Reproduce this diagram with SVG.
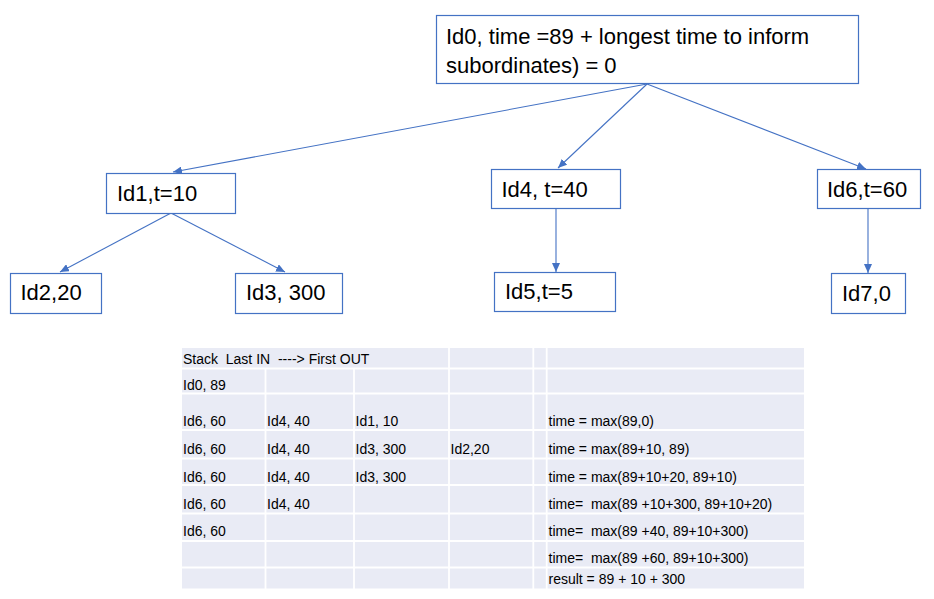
<svg xmlns="http://www.w3.org/2000/svg" width="934" height="599" viewBox="0 0 934 599">
<style>
  .box { fill: #ffffff; stroke: #4472C4; stroke-width: 1.2; }
  .nt { font-family: "Liberation Sans", Arial, sans-serif; font-size: 22px; fill: #000000; white-space: pre; }
  .tt { font-family: "Liberation Sans", Arial, sans-serif; font-size: 14px; fill: #000000; white-space: pre; }
  .conn { stroke: #4472C4; stroke-width: 1.1; fill: none; marker-end: url(#arrow); }
  .cell { fill: #E9EBF5; }
  .grid { stroke: #ffffff; stroke-width: 1.8; }
</style>
<defs>
  <marker id="arrow" markerUnits="userSpaceOnUse" markerWidth="10" markerHeight="8" refX="9" refY="4" orient="auto">
    <path d="M0,0 L9,4 L0,8 z" fill="#4472C4"/>
  </marker>
</defs>
<rect width="934" height="599" fill="#ffffff"/>

<g id="connectors">
  <line class="conn" x1="647" y1="84" x2="173" y2="172"/>
  <line class="conn" x1="647" y1="84" x2="558" y2="168"/>
  <line class="conn" x1="647" y1="84" x2="866" y2="169"/>
  <line class="conn" x1="171" y1="213" x2="60" y2="272"/>
  <line class="conn" x1="171" y1="213" x2="285" y2="272"/>
  <line class="conn" x1="556" y1="208" x2="556" y2="272"/>
  <line class="conn" x1="868" y1="208" x2="868" y2="273"/>
</g>

<g id="node-id0">
  <rect class="box" x="436.5" y="15.5" width="422" height="68"/>
  <text class="nt" x="446" y="44">Id0, time =89 + longest time to inform</text>
  <text class="nt" x="446" y="73">subordinates) = 0</text>
</g>
<g id="node-id1">
  <rect class="box" x="106.5" y="173.5" width="129" height="40"/>
  <text class="nt" x="117" y="201">Id1,t=10</text>
</g>
<g id="node-id2">
  <rect class="box" x="10.5" y="273.5" width="91" height="40"/>
  <text class="nt" x="20.5" y="300">Id2,20</text>
</g>
<g id="node-id3">
  <rect class="box" x="235.5" y="273.5" width="107" height="40"/>
  <text class="nt" x="246" y="300">Id3, 300</text>
</g>
<g id="node-id4">
  <rect class="box" x="491.5" y="169.5" width="129" height="39"/>
  <text class="nt" x="501.5" y="197">Id4, t=40</text>
</g>
<g id="node-id5">
  <rect class="box" x="494.5" y="272.5" width="121" height="39"/>
  <text class="nt" x="505" y="299">Id5,t=5</text>
</g>
<g id="node-id6">
  <rect class="box" x="817.5" y="169.5" width="103" height="39"/>
  <text class="nt" x="827" y="197">Id6,t=60</text>
</g>
<g id="node-id7">
  <rect class="box" x="831.5" y="273.5" width="74" height="40"/>
  <text class="nt" x="842" y="301">Id7,0</text>
</g>

<g id="stack-table">
  <rect class="cell" x="182" y="348" width="622" height="240.5"/>
  <g class="grid">
    <line x1="265.5" y1="368.5" x2="265.5" y2="589"/>
    <line x1="354" y1="368.5" x2="354" y2="589"/>
    <line x1="449" y1="348" x2="449" y2="589"/>
    <line x1="533.3" y1="348" x2="533.3" y2="589"/>
    <line x1="546.7" y1="348" x2="546.7" y2="589"/>
    <line x1="182" y1="368.5" x2="804" y2="368.5"/>
    <line x1="182" y1="393.5" x2="804" y2="393.5"/>
    <line x1="182" y1="430" x2="804" y2="430"/>
    <line x1="182" y1="458.5" x2="804" y2="458.5"/>
    <line x1="182" y1="485" x2="804" y2="485"/>
    <line x1="182" y1="513.5" x2="804" y2="513.5"/>
    <line x1="182" y1="541" x2="804" y2="541"/>
    <line x1="182" y1="567.5" x2="804" y2="567.5"/>
  </g>
  <text class="tt" x="183" y="364" xml:space="preserve">Stack  Last IN  ----&gt; First OUT</text>
  <text class="tt" x="183" y="390">Id0, 89</text>

  <text class="tt" x="183" y="426">Id6, 60</text>
  <text class="tt" x="267" y="426">Id4, 40</text>
  <text class="tt" x="355.5" y="426">Id1, 10</text>
  <text class="tt" x="548.5" y="426" xml:space="preserve">time = max(89,0)</text>

  <text class="tt" x="183" y="454">Id6, 60</text>
  <text class="tt" x="267" y="454">Id4, 40</text>
  <text class="tt" x="355.5" y="454">Id3, 300</text>
  <text class="tt" x="450.5" y="454">Id2,20</text>
  <text class="tt" x="548.5" y="454" xml:space="preserve">time = max(89+10, 89)</text>

  <text class="tt" x="183" y="481.5">Id6, 60</text>
  <text class="tt" x="267" y="481.5">Id4, 40</text>
  <text class="tt" x="355.5" y="481.5">Id3, 300</text>
  <text class="tt" x="548.5" y="481.5" xml:space="preserve">time = max(89+10+20, 89+10)</text>

  <text class="tt" x="183" y="508.5">Id6, 60</text>
  <text class="tt" x="267" y="508.5">Id4, 40</text>
  <text class="tt" x="548.5" y="508.5" xml:space="preserve">time=  max(89 +10+300, 89+10+20)</text>

  <text class="tt" x="183" y="536">Id6, 60</text>
  <text class="tt" x="548.5" y="536" xml:space="preserve">time=  max(89 +40, 89+10+300)</text>

  <text class="tt" x="548.5" y="563" xml:space="preserve">time=  max(89 +60, 89+10+300)</text>
  <text class="tt" x="548.5" y="583.5" xml:space="preserve">result = 89 + 10 + 300</text>
</g>
</svg>
